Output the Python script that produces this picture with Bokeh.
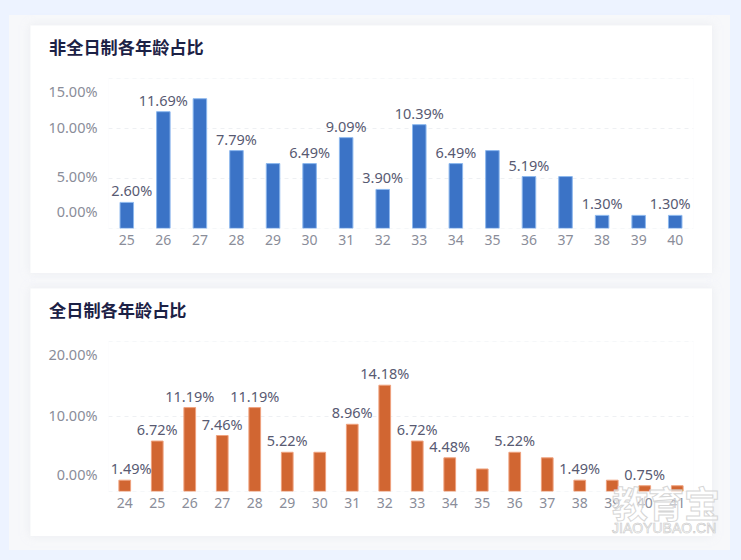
from bokeh.plotting import figure
from bokeh.models import (ColumnDataSource, LabelSet, Div, Range1d, FixedTicker,
                          GlobalInlineStyleSheet)
from bokeh.core.properties import value
from bokeh.layouts import column
from bokeh.embed import file_html
from bokeh.resources import INLINE

title_part = "非全日制各年龄占比"
ages_part = [25, 26, 27, 28, 29, 30, 31, 32, 33, 34, 35, 36, 37, 38, 39, 40]
values_part = [2.60, 11.69, 12.99, 7.79, 6.49, 6.49, 9.09, 3.90, 10.39, 6.49, 7.79, 5.19, 5.19, 1.30, 1.30, 1.30]
labelled_part = [25, 26, 28, 30, 31, 32, 33, 34, 36, 38, 40]
ticks_part = [0, 5, 10, 15]

title_full = "全日制各年龄占比"
ages_full = [24, 25, 26, 27, 28, 29, 30, 31, 32, 33, 34, 35, 36, 37, 38, 39, 40, 41]
values_full = [1.49, 6.72, 11.19, 7.46, 11.19, 5.22, 5.22, 8.96, 14.18, 6.72, 4.48, 2.99, 5.22, 4.48, 1.49, 1.49, 0.75, 0.75]
labelled_full = [24, 25, 26, 27, 28, 29, 31, 32, 33, 34, 36, 38, 40]
ticks_full = [0, 10, 20]

watermark_big = "教育宝"
watermark_small = "JIAOYUBAO.CN"

FONT = "Noto Sans"
CJK = "Noto Sans CJK SC"
FRAME_H = 150


def card(ages, values, labelled, ticks, fill, edge, bar_w, edge_shift, margin):
    span = ticks[-1] - ticks[0]
    pad = span * 0.001
    p = figure(width=682, height=248, output_backend="svg", toolbar_location=None,
               x_range=Range1d(ages[0] - 0.5, ages[-1] + 0.5),
               y_range=Range1d(ticks[0] - pad, ticks[-1] + pad),
               min_border_left=78, min_border_right=19, min_border_top=53, min_border_bottom=45,
               margin=margin, background_fill_color="white", border_fill_color="white",
               outline_line_color=None,
               styles={"box-shadow": "0 0 8px rgba(225,228,235,0.55)"})

    p.xgrid.visible = False
    p.ygrid.ticker = FixedTicker(ticks=ticks)
    p.ygrid.grid_line_color = "#EEF0F3"
    p.ygrid.grid_line_dash = [4, 4]

    ax = p.xaxis[0]
    ax.ticker = FixedTicker(ticks=ages)
    ax.axis_line_color = None
    ax.major_tick_line_color = None
    ax.minor_tick_line_color = None
    ax.major_label_standoff = 0
    ax.major_label_text_font = FONT
    ax.major_label_text_font_size = "14px"
    ax.major_label_text_color = "#8A8D99"

    # y axis: the outermost tick labels sit inside the axis extent, as in the source chart
    per_px = span / FRAME_H
    shifted = {}
    for t in ticks:
        lift = 17 if t == ticks[0] else (-12.5 if t == ticks[-1] else 2)
        shifted[t + lift * per_px] = f"{t:.2f}%"
    ay = p.yaxis[0]
    ay.ticker = FixedTicker(ticks=list(shifted))
    ay.major_label_overrides = shifted
    ay.axis_line_color = None
    ay.major_tick_line_color = None
    ay.minor_tick_line_color = None
    ay.major_label_standoff = 5
    ay.major_label_text_font = FONT
    ay.major_label_text_font_size = "14.5px"
    ay.major_label_text_color = "#8A8D99"

    p.vbar(x=ages, top=values, bottom=0, width=bar_w, fill_color=fill,
           line_color=edge, line_width=1)

    # value labels: the first and last are pushed inward so they stay in the plot
    lab = [(a, v) for a, v in zip(ages, values) if a in labelled]
    src = ColumnDataSource(dict(
        x=[a for a, _ in lab], y=[v for _, v in lab],
        text=[f"{v:.2f}%" for _, v in lab],
        dx=[edge_shift if a == ages[0] else (-edge_shift if a == ages[-1] else 0) for a, _ in lab]))
    p.add_layout(LabelSet(x="x", y="y", text="text", source=src, x_offset="dx", y_offset=12,
                          text_align="center", text_baseline="middle", text_font=value(FONT),
                          text_font_size="14.5px", text_color="#585A72"))
    return p


def heading(text, top):
    return Div(text=text, width=200, height=24, margin=0,
               styles={"position": "absolute", "left": "40px", "top": f"{top}px", "z-index": "5",
                       "font-family": CJK, "font-weight": "bold", "font-size": "17.2px",
                       "line-height": "24px", "color": "#1C2145", "white-space": "nowrap"})


p1 = card(ages_part, values_part, labelled_part, ticks_part,
          "#3B73C6", "#8DB8EE", 0.37, 5, (10, 18, 15, 21))
p2 = card(ages_full, values_full, labelled_full, ticks_full,
          "#D16632", "#EFA27E", 0.36, 6.5, (0, 18, 14, 21))

mark = Div(
    text=(f'<div style="font:bold 36px/36px \'{CJK}\';color:rgba(255,255,255,.55);'
          f'-webkit-text-stroke:1px #D6D6D6;white-space:nowrap">{watermark_big}</div>'
          f'<div style="font:14px/14px \'Liberation Sans\';color:rgba(255,255,255,.55);margin-top:1px;'
          f'-webkit-text-stroke:.6px #C8C8C8;white-space:nowrap">{watermark_small}</div>'),
    width=110, height=52, margin=0,
    styles={"position": "absolute", "left": "603px", "top": "469px", "z-index": "10",
            "pointer-events": "none"})

page = column(p1, p2, heading(title_part, 20), heading(title_full, 283), mark,
              margin=(15, 0, 0, 9), spacing=0,
              styles={"background-color": "#F7F8FA"},
              stylesheets=[GlobalInlineStyleSheet(css="html,body{background:#EDF3FF;}")])

open("out.html", "w").write(file_html(page, INLINE))
